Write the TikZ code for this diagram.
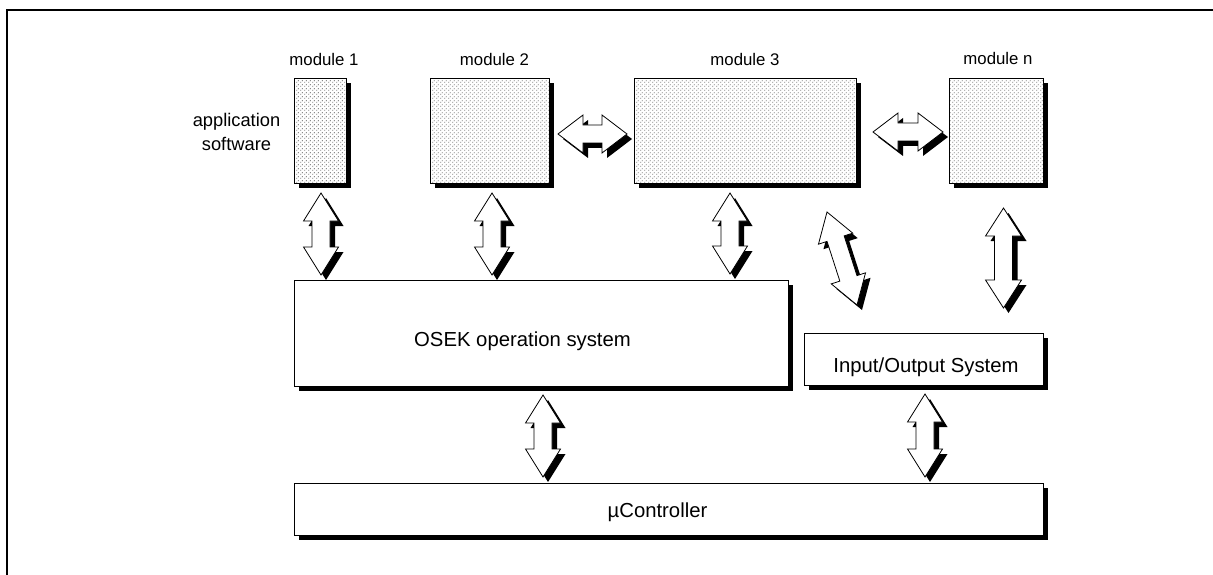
\documentclass[tikz,border=0pt]{standalone}
\usepackage{fontspec}
\setmainfont{Liberation Sans}
\usetikzlibrary{calc,shadows,patterns}
\pgfdeclarepatternformonly{sdots}{\pgfpointorigin}{\pgfpoint{4pt}{4pt}}{\pgfpoint{4pt}{4pt}}{%
  \pgfpathrectangle{\pgfpoint{0.4pt}{0.4pt}}{\pgfpoint{1pt}{1pt}}%
  \pgfpathrectangle{\pgfpoint{2.4pt}{2.4pt}}{\pgfpoint{1pt}{1pt}}%
  \pgfusepath{fill}}
% #1,#2: end points; #3 head length; #4 half head width
\newcommand\dblarr[4]{%
  \coordinate (q1) at ($(#1)!#3!(#2)$);
  \coordinate (q2) at ($(#2)!#3!(#1)$);
  \draw[arr] (#1) -- ($(q1)!#4!90:(#2)$) -- ($(q1)!9pt!90:(#2)$)
     -- ($(q2)!9pt!-90:(#1)$) -- ($(q2)!#4!-90:(#1)$) -- (#2)
     -- ($(q2)!#4!90:(#1)$) -- ($(q2)!9pt!90:(#1)$)
     -- ($(q1)!9pt!-90:(#2)$) -- ($(q1)!#4!-90:(#2)$) -- cycle;}
\begin{document}
\begin{tikzpicture}[x=1pt,y=-1pt,
  shd/.style={drop shadow={shadow xshift=5pt,shadow yshift=-5pt,opacity=1,fill=black}},
  box/.style={draw=black,line width=0.8pt,fill=white,shd,inner sep=0pt,anchor=north west},
  modbox/.style={draw=black,line width=0.8pt,shd,preaction={fill=white},pattern=sdots,pattern color=black!70,inner sep=0pt,anchor=north west},
  arr/.style={draw=black,line width=0.8pt,fill=white,shd,line join=miter},
  lbl/.style={anchor=base,inner sep=0pt,font=\fontsize{16.8}{18}\selectfont},
  applbl/.style={anchor=base,inner sep=0pt,font=\fontsize{18.3}{20}\selectfont},
  big/.style={anchor=base,inner sep=0pt,font=\fontsize{20.3}{24}\selectfont}]
\useasboundingbox (0,0) rectangle (1213,575);
% frame
\draw[line width=2pt] (7,576) |- (1214,10.5);
% module boxes
\node[modbox,minimum width=52pt,minimum height=105pt] (m1) at (294,78) {};
\node[modbox,minimum width=119pt,minimum height=105pt] (m2) at (430,78) {};
\node[modbox,minimum width=222pt,minimum height=105pt] (m3) at (634,78) {};
\node[modbox,minimum width=94pt,minimum height=105pt] (mn) at (949,78) {};
% system boxes
\node[box,minimum width=494pt,minimum height=106pt] (osek) at (294,280) {};
\node[box,minimum width=239pt,minimum height=52pt] (io) at (804,333) {};
\node[box,minimum width=749pt,minimum height=52pt] (uc) at (294,483) {};
% labels
\node[lbl] (l1) at (324,66) {module 1};
\node[lbl] (l2) at (494.5,66) {module 2};
\node[lbl] (l3) at (745,66) {module 3};
\node[lbl] (ln) at (998,65) {module n};
\node[applbl] (app1) at (236.5,126.7) {application};
\node[applbl] (app2) at (236.5,150) {software};
\node[big] (tosek) at (522.5,346) {OSEK operation system};
\node[big] (tio) at (926,372) {Input/Output System};
\node[big] (tuc) at (657.5,517) {µController};
% arrow end points
\coordinate (h1a) at (558,134); \coordinate (h1b) at (627,134);
\coordinate (h2a) at (873,132); \coordinate (h2b) at (943,132);
\coordinate (v1a) at (321,193); \coordinate (v1b) at (321,275);
\coordinate (v2a) at (492,193); \coordinate (v2b) at (492,275);
\coordinate (v3a) at (730,193); \coordinate (v3b) at (730,274);
\coordinate (ta) at (827,212); \coordinate (tb) at (857,305);
\coordinate (vna) at (1003.5,208); \coordinate (vnb) at (1003.5,308);
\coordinate (voa) at (543,395); \coordinate (vob) at (543,477);
\coordinate (via) at (925,394); \coordinate (vib) at (925,477);
% arrows
\dblarr{h1a}{h1b}{25pt}{19pt}
\dblarr{h2a}{h2b}{25pt}{19pt}
\dblarr{v1a}{v1b}{28pt}{17.5pt}
\dblarr{v2a}{v2b}{28pt}{17.5pt}
\dblarr{v3a}{v3b}{28pt}{17.5pt}
\dblarr{ta}{tb}{28pt}{18pt}
\dblarr{vna}{vnb}{28pt}{18pt}
\dblarr{voa}{vob}{28pt}{17.5pt}
\dblarr{via}{vib}{28pt}{17.5pt}
\end{tikzpicture}
\end{document}
